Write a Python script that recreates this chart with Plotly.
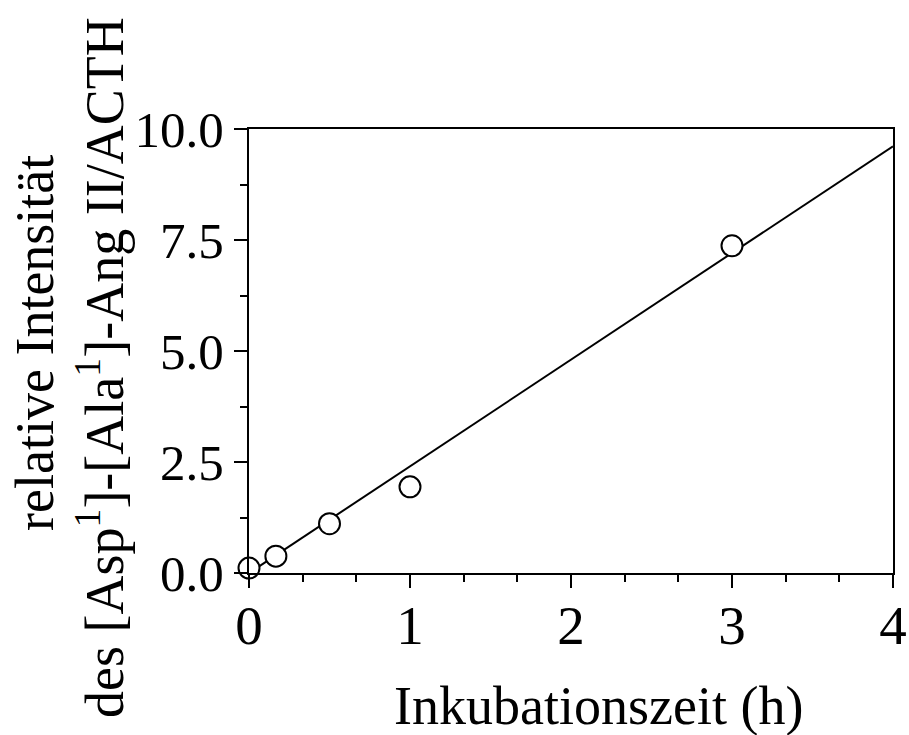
import plotly.graph_objects as go

# Data
time_h = [0.0, 0.167, 0.5, 1.0, 3.0]
rel_int = [0.11, 0.38, 1.11, 1.94, 7.37]
fit_x = [0.0, 4.0]
fit_y = [0.0, 9.61]

x_ticks = [0, 1, 2, 3, 4]
y_ticks = [0.0, 2.5, 5.0, 7.5, 10.0]
y_tick_text = ["0.0", "2.5", "5.0", "7.5", "10.0"]

FONT = "Liberation Serif"
XTICK_SIZE = 55
YTICK_SIZE = 51
TITLE_SIZE = 54

# plot area in pixels
L, R, T, B = 249, 893, 129, 573
W, H = 909, 735


def px_x(p):
    return (p - L) / (R - L)


def px_y(p):
    return (B - p) / (B - T)


fig = go.Figure()
fig.add_trace(go.Scatter(x=fit_x, y=fit_y, mode="lines",
                         line=dict(color="black", width=2),
                         showlegend=False, cliponaxis=False))
fig.add_trace(go.Scatter(x=time_h, y=rel_int, mode="markers",
                         marker=dict(symbol="circle", size=21, color="white",
                                     line=dict(color="black", width=2)),
                         showlegend=False, cliponaxis=False))

fig.update_layout(
    width=W, height=H,
    margin=dict(l=L, r=W - R, t=T, b=H - B, autoexpand=False),
    paper_bgcolor="white", plot_bgcolor="white",
    font=dict(family=FONT, size=YTICK_SIZE, color="black"),
    xaxis=dict(range=[0, 4], tickvals=x_ticks, ticks="outside", ticklen=13,
               tickwidth=2, tickcolor="black", showline=True, linewidth=2,
               linecolor="black", mirror=True, showgrid=False, zeroline=False,
               automargin=False, ticklabelstandoff=-10,
               tickfont=dict(family=FONT, size=XTICK_SIZE),
               minor=dict(dtick=1/3, tick0=0, ticks="outside", ticklen=7,
                          tickwidth=2, tickcolor="black", showgrid=False)),
    yaxis=dict(range=[0, 10], tickvals=y_ticks, ticktext=y_tick_text,
               ticks="outside", ticklen=13, tickwidth=2, tickcolor="black",
               showline=True, linewidth=2, linecolor="black", mirror=True,
               showgrid=False, zeroline=False, automargin=False,
               tickfont=dict(family=FONT, size=YTICK_SIZE),
               minor=dict(dtick=1.25, tick0=0, ticks="outside", ticklen=7,
                          tickwidth=2, tickcolor="black", showgrid=False)),
)

fig.add_annotation(text="Inkubationszeit (h)", xref="paper", yref="paper",
                   x=px_x(598), y=px_y(706),
                   showarrow=False, xanchor="center", yanchor="middle",
                   font=dict(family=FONT, size=TITLE_SIZE))
fig.add_annotation(text="relative Intensität",
                   xref="paper", yref="paper",
                   x=px_x(35), y=px_y(343),
                   textangle=-90, showarrow=False, xanchor="center", yanchor="middle",
                   font=dict(family=FONT, size=TITLE_SIZE))
fig.add_annotation(text="des [Asp<sup>1</sup>]-[Ala<sup>1</sup>]-Ang II/ACTH",
                   xref="paper", yref="paper",
                   x=px_x(100), y=px_y(368),
                   textangle=-90, showarrow=False, xanchor="center", yanchor="middle",
                   font=dict(family=FONT, size=TITLE_SIZE))

fig.write_html("out.html")
